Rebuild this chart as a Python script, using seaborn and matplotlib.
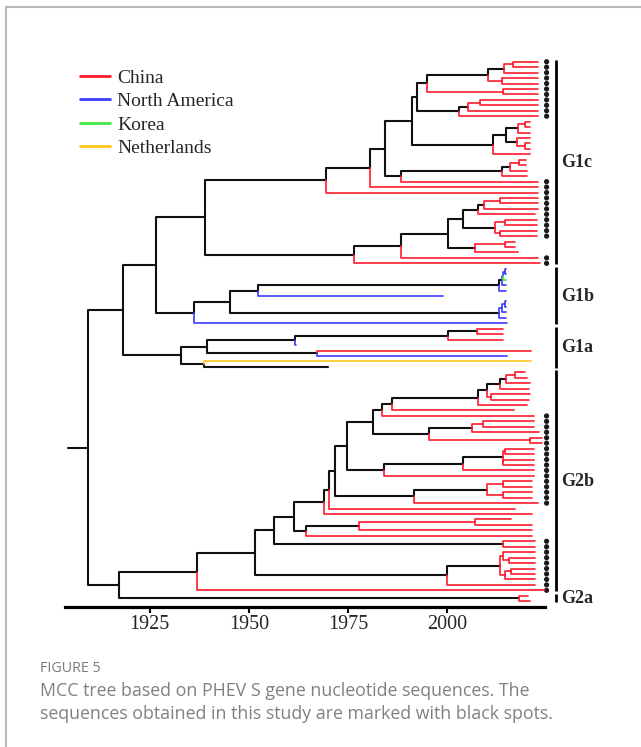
import re
import pandas as pd
import seaborn as sns
import matplotlib.pyplot as plt
from matplotlib.lines import Line2D

# 进化树数据: 标签 = 颜色代码 + 年份, * 表示本研究获得的序列
# k 黑色(祖先), c 中国, n 北美, g 韩国, y 荷兰
G1C_N4 = "(((c2022.9*,c2022.9*)c2016.5,c2022.9*)k2014.3,(c2022.9*,c2022.9*)c2013.7)k2010.3"
G1C_N6 = "(((c2022.9*,c2022.9*)c2008.2,c2022.9*)k2005.3,c2022.9*)k2003.0"
G1C_N7 = "((((c2020.8,c2020.8)c2019.5,c2020.8)k2017.9,(c2020.8,(c2020.8,c2020.8)c2019.5)k2017.5)k2014.8,c2020.8)k2011.6"
G1C_N8 = "((((c2019.8,c2019.8)c2018.1,c2020.0)k2015.8,c2020.0)k2013.7,c2022.9*)k1988.3"
G1C_N2 = f"(({G1C_N4},(c2022.9*,c2022.9*)c2014.1)k1994.8,{G1C_N6})k1992.3"
G1C_UP = f"(((({G1C_N2},{G1C_N7})k1991.0,{G1C_N8})k1984.3,c2022.9*)k1980.5,c2022.9*)k1969.4"
G1C_477 = "(((c2022.9*,c2022.9*)c2013.2,c2022.9*)k2009.3,c2022.1*)k2007.6"
G1C_495 = "((c2022.5*,c2022.5*)c2014.5,(c2022.5*,c2022.5*)c2013.3)k2012.0"
G1C_475 = "((c2017.1,c2017.1)c2014.5,c2017.8)k2007.0"
G1C_LOW = f"(((({G1C_477},{G1C_495})k2004.0,{G1C_475})k2000.1,c2022.9*)k1988.3,c2023.4*)k1976.5"
G1B_C1 = "((((n2014.8,n2014.8)n2014.4,g2014.8)n2014.0,n2014.8)k2013.7,n2014.8)k2013.1"
G1B_C2 = "(((n2014.8,n2014.8)n2014.5,n2014.8)n2013.7,n2014.8)k2013.1"
G1B = f"((({G1B_C1},n1999.0)k1952.4,{G1B_C2})k1945.2,n2015.0)k1936.3"
G1A = ("(((((c2014.0,c2014.0)k2007.5,c2014.0)k2000.2,n1961.8)k1961.6,(c2021.0,n2015.0)k1967.2)k1939.5,"
       "(y2021.0,k1970.0)k1938.7)k1932.9")
G2B_500 = "((((c2019.5,c2020.0)c2017.1,c2020.8)k2014.9,c2020.5)k2013.3,(c2020.8,c2020.5)c2010.9)k2009.9"
G2B_428 = "(((c2021.9*,c2021.9*)c2008.9,c2023.2*)k2006.2,(c2023.8*,c2023.8*)c2020.8)k1995.3"
G2B_384 = "((((c2021.9*,c2021.9*)c2014.5,(c2021.9*,c2021.9*)c2014.0)k2014.1,c2021.9*)k2004.0,c2021.9*)k1984.1"
G2B_413 = "(((c2021.3*,c2021.3*)c2014.1,(c2021.3*,c2021.3*)c2014.1)k2009.9,c2022.9*)k1991.5"
G2B_306 = "(((c2016.0,c2021.3)c2007.0,c2021.3)k1977.8,c2021.3)k1964.5"
G2B_445 = ("(((c2022.1*,(c2022.1*,c2022.1*)c2015.5)c2014.0,((c2022.1*,c2022.1*)c2016.0,c2022.1*)c2014.5)k2013.3,"
           "c2022.1*)k2000.0")
G2B_381 = f"((({G2B_500},c2020.0)k2007.8,c2016.8)k1986.0,c2021.9*)k1983.5"
G2B_335 = f"((({G2B_381},{G2B_428})k1981.4,{G2B_384})k1974.7,{G2B_413})k1971.7"
G2B_294 = f"((({G2B_335},c2017.1)k1970.3,c2021.3)k1969.0,{G2B_306})k1961.5"
G2B = f"((({G2B_294},(c2022.1*,c2022.1*)k2014.1)k1956.4,{G2B_445})k1951.6,c2024.5*)k1936.9"
G2A = "(c2020.3,c2020.8)k2018.1"
G1C = f"({G1C_UP},{G1C_LOW})k1939.0"
TREE = f"((({G1C},{G1B})k1926.7,{G1A})k1918.4,({G2B},{G2A})k1917.3)k1909.4"
origin_year = 1904.5

# 分支名称及其叶节点范围
clade_names = ["G1c", "G1b", "G1a", "G2b", "G2a"]
clade_first = [0, 38, 49, 57, 98]
clade_last = [37, 48, 56, 97, 99]

regions = ["China", "North America", "Korea", "Netherlands"]
codes = {"k": "ancestor", "c": "China", "n": "North America", "g": "Korea", "y": "Netherlands"}
palette = {"ancestor": "#111111", "China": "#ff1a2b", "North America": "#3b3bff",
           "Korea": "#3ee63e", "Netherlands": "#ffc61a"}

caption = ["MCC tree based on PHEV S gene nucleotide sequences. The",
           "sequences obtained in this study are marked with black spots."]


def parse(s):
    s = re.sub(r"\s+", "", s)
    pos = 0

    def node():
        nonlocal pos
        kids = []
        if s[pos] == "(":
            pos += 1
            kids.append(node())
            while s[pos] == ",":
                pos += 1
                kids.append(node())
            assert s[pos] == ")", s[pos:pos + 20]
            pos += 1
        m = re.match(r"([kcngy])([\d.]+)(\*?)", s[pos:])
        pos += m.end()
        return {"col": codes[m.group(1)], "year": float(m.group(2)),
                "study": m.group(3) == "*", "kids": kids}
    tree = node()
    assert pos == len(s), s[pos:pos + 20]
    return tree


root = parse(TREE)

# 布局: 叶节点依次排列, 内部节点取首尾子节点的中点
tips = []


def layout(nd):
    if not nd["kids"]:
        nd["y"] = len(tips)
        tips.append(nd)
    else:
        for k in nd["kids"]:
            layout(k)
        nd["y"] = (nd["kids"][0]["y"] + nd["kids"][-1]["y"]) / 2


layout(root)

rows = []


def segments(nd):
    for k in nd["kids"]:
        sid = len(rows)
        for x, y in [(nd["year"], nd["y"]), (nd["year"], k["y"]), (k["year"], k["y"])]:
            rows.append({"seg": sid, "x": x, "y": y, "region": k["col"]})
        segments(k)


rows.append({"seg": -1, "x": origin_year, "y": root["y"], "region": "ancestor"})
rows.append({"seg": -1, "x": root["year"], "y": root["y"], "region": "ancestor"})
segments(root)
df = pd.DataFrame(rows)

sns.set_style("white")
plt.rcParams["font.family"] = ["Liberation Serif", "DejaVu Serif"]

W, H = 641, 747
fig = plt.figure(figsize=(W / 100, H / 100), dpi=100)
ax = fig.add_axes([65 / W, (H - 607) / H, 480 / W, 557 / H])

black = df[df["region"] == "ancestor"]
colored = df[df["region"] != "ancestor"]
sns.lineplot(data=black, x="x", y="y", units="seg", hue="region", estimator=None, sort=False,
             palette=palette, legend=False, linewidth=1.5, ax=ax)
sns.lineplot(data=colored, x="x", y="y", units="seg", hue="region", estimator=None, sort=False,
             palette=palette, legend=False, linewidth=1.2, ax=ax)

# 本研究序列的黑点
study_y = [t["y"] for t in tips if t["study"]]
sns.scatterplot(x=[2025.0] * len(study_y), y=study_y, color="#1a1a1a", s=14,
                edgecolor="none", clip_on=False, ax=ax)

# 分支标记
for name, a, b in zip(clade_names, clade_first, clade_last):
    ax.plot([2027.4, 2027.4], [a - 0.35, b + 0.15], color="black", lw=2.0,
            solid_capstyle="butt", clip_on=False)
    ax.text(2028.6, (a + b) / 2, name, fontsize=13, fontweight="bold", va="center", ha="left")

ax.set_xlim(1903.7, 2024.6)
ax.set_ylim(100.06, -2.15)
ax.set_xticks([1925, 1950, 1975, 2000])
ax.set_yticks([])
ax.set_xlabel("")
ax.set_ylabel("")
for sp in ["left", "right", "top"]:
    ax.spines[sp].set_visible(False)
ax.spines["bottom"].set_linewidth(2.3)
ax.spines["bottom"].set_color("black")
ax.tick_params(axis="x", direction="out", length=4, width=1.5, color="black",
               labelsize=14.5, pad=2, bottom=True)

handles = [Line2D([], [], color=palette[r], lw=2) for r in regions]
fig.legend(handles, regions, loc="upper left", bbox_to_anchor=(80 / W, 1 - 69 / H),
           frameon=False, fontsize=14, handlelength=1.55, handletextpad=0.35,
           labelspacing=0.3, borderpad=0, borderaxespad=0)

fig.text(40 / W, 1 - 668 / H, "FIGURE 5", fontsize=10.3, color="#7a7a7a",
         family="Open Sans", va="center")
for i, line in enumerate(caption):
    fig.text(40 / W, 1 - (691 + 23 * i) / H, line, fontsize=12.8, color="#808080",
             family="Open Sans", va="center")

fig.add_artist(Line2D([6 / W, 1], [1 - 7 / H, 1 - 7 / H], color="#b8b8b8", lw=1.5))
fig.add_artist(Line2D([6 / W, 6 / W], [0, 1 - 7 / H], color="#b8b8b8", lw=1.5))

fig.savefig("out.png", dpi=100)
